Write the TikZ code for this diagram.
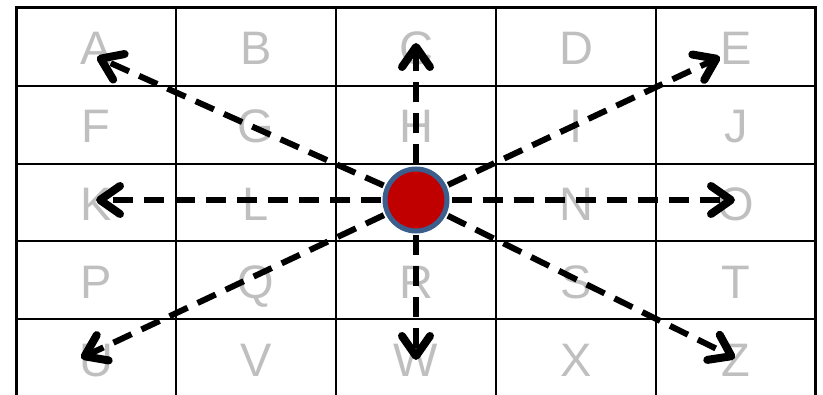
\documentclass[tikz,border=0pt]{standalone}
\usepackage{fontspec}
\setmainfont{Liberation Sans}
\usetikzlibrary{arrows.meta,positioning}

\definecolor{lettergray}{HTML}{BFBFBF}
\definecolor{dotred}{HTML}{C00000}
\definecolor{dotblue}{HTML}{3B5E8C}

\begin{document}
\begin{tikzpicture}[
    x=1pt, y=-1pt,
    letter/.style={text=lettergray, font=\fontsize{47}{47}\selectfont, inner sep=0pt, text height=34pt, text depth=0pt},
    gridline/.style={line width=2.4pt},
    arrow/.style={-{Straight Barb[round, length=20pt, width=28pt, line width=8pt]}, line width=6pt, dash pattern=on 20pt off 11pt, shorten <=2pt},
    dot/.style={circle, draw=dotblue, fill=dotred, line width=5pt, minimum size=62pt, inner sep=0pt}
]
    \useasboundingbox (0,0) rectangle (823,395);

    % table
    \draw[line width=3pt] (16,395) -- (16,8) -- (815,8) -- (815,395);
    \foreach \x in {176,336,496,656}
        \draw[gridline] (\x,8) -- (\x,395);
    \foreach \y in {86,164,241,319}
        \draw[gridline] (16,\y) -- (815,\y);

    % letters
    \foreach \l [count=\i from 0] in {A,B,C,D,E,F,G,H,I,J,K,L,M,N,O,P,Q,R,S,T,U,V,W,X,Z} {
        \pgfmathtruncatemacro\col{mod(\i,5)}
        \pgfmathtruncatemacro\row{int(\i/5)}
        \node[letter] (\l) at (96+160*\col, 48+77.8*\row) {\l};
    }

    \node[dot] (c) at (416,200) {};

    % arrow ends
    \coordinate (toA) at (97,57);
    \coordinate (toC) at (416,43);
    \coordinate (toE) at (720,57);
    \coordinate (toK) at (96,200);
    \coordinate (toO) at (735,200);
    \coordinate (toU) at (81,358);
    \coordinate (toW) at (416,360);
    \coordinate (toZ) at (735,358);

    \draw[arrow] (c) -- (toA);
    \draw[arrow] (c) -- (toC);
    \draw[arrow] (c) -- (toE);
    \draw[arrow] (c) -- (toK);
    \draw[arrow] (c) -- (toO);
    \draw[arrow] (c) -- (toU);
    \draw[arrow] (c) -- (toW);
    \draw[arrow] (c) -- (toZ);
\end{tikzpicture}
\end{document}
